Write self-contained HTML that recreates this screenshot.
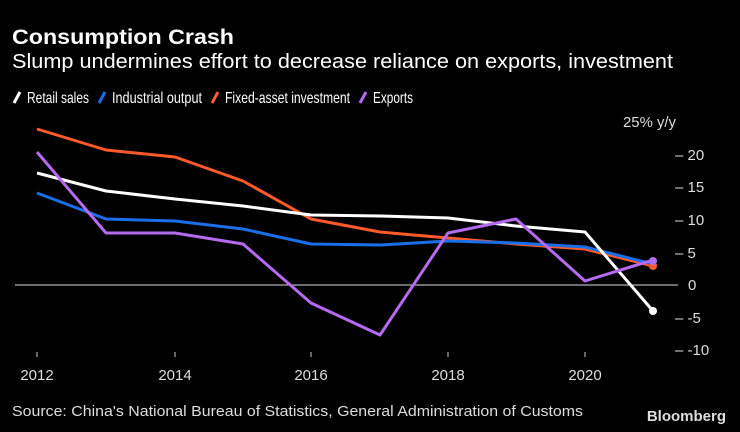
<!DOCTYPE html>
<html><head><style>
body{margin:0;background:#000;width:740px;height:432px;overflow:hidden;font-family:"Liberation Sans",sans-serif;color:#fff}
</style></head><body>
<svg width="740" height="432" xmlns="http://www.w3.org/2000/svg" style="position:absolute;left:0;top:0">
<rect width="740" height="432" fill="#000"/>
<text x="12" y="44" font-size="21" font-weight="bold" fill="#fff" font-family="Liberation Sans" textLength="222" lengthAdjust="spacingAndGlyphs">Consumption Crash</text>
<text x="12" y="68" font-size="20" fill="#fff" font-family="Liberation Sans" textLength="661" lengthAdjust="spacingAndGlyphs">Slump undermines effort to decrease reliance on exports, investment</text>
<g font-size="16" fill="#fff" font-family="Liberation Sans">
<line x1="14" y1="103" x2="20" y2="92" stroke="#fff" stroke-width="3"/><text x="27" y="103" textLength="62" lengthAdjust="spacingAndGlyphs">Retail sales</text>
<line x1="99" y1="103" x2="105" y2="92" stroke="#1a6fe8" stroke-width="3"/><text x="112" y="103" textLength="90" lengthAdjust="spacingAndGlyphs">Industrial output</text>
<line x1="212" y1="103" x2="218" y2="92" stroke="#ff5a2a" stroke-width="3"/><text x="225" y="103" textLength="125" lengthAdjust="spacingAndGlyphs">Fixed-asset investment</text>
<line x1="360" y1="103" x2="366" y2="92" stroke="#b46bf0" stroke-width="3"/><text x="373" y="103" textLength="40" lengthAdjust="spacingAndGlyphs">Exports</text>
</g>
<g font-size="15" fill="#ddd" font-family="Liberation Sans">
<text x="623" y="127" textLength="53" lengthAdjust="spacingAndGlyphs">25% y/y</text>
<text x="675" y="160">– 20</text>
<text x="675" y="192">– 15</text>
<text x="675" y="225">– 10</text>
<text x="675" y="258">– 5</text>
<text x="688" y="290">0</text>
<text x="675" y="323">– -5</text>
<text x="675" y="355">– -10</text>
<g text-anchor="middle">
<text x="37" y="380">2012</text><text x="175" y="380">2014</text><text x="311" y="380">2016</text><text x="448" y="380">2018</text><text x="585" y="380">2020</text>
</g>
</g>
<g stroke="#ccc" stroke-width="1">
<line x1="37" y1="352" x2="37" y2="357"/><line x1="175" y1="352" x2="175" y2="357"/><line x1="311" y1="352" x2="311" y2="357"/><line x1="448" y1="352" x2="448" y2="357"/><line x1="585" y1="352" x2="585" y2="357"/>
</g>
<line x1="15" y1="285" x2="678" y2="285" stroke="#ddd" stroke-width="1"/>
<g fill="none" stroke-width="3" stroke-linejoin="round">
<polyline stroke="#ff5a2a" points="37,129 106,150 175,157 243,181 311,219 380,232 448,238 516,244 585,249 653,266"/>
<polyline stroke="#1a6fe8" points="37,193 106,219 175,221 243,229 311,244 380,245 448,241 516,243 585,247 653,264"/>
<polyline stroke="#fff" points="37,173 106,191 175,199 243,206 311,215 380,216 448,218 516,226 585,232 653,311"/>
<polyline stroke="#b46bf0" points="37,152 106,233 175,233 243,244 311,303 380,335 448,233 516,219 585,281 653,260"/>
</g>
<circle cx="653" cy="266" r="4" fill="#ff5a2a"/>
<circle cx="653" cy="311" r="4" fill="#fff"/>
<circle cx="653" cy="261" r="4" fill="#b46bf0"/>
<text x="12" y="416" font-size="15" fill="#ddd" font-family="Liberation Sans" textLength="571" lengthAdjust="spacingAndGlyphs">Source: China's National Bureau of Statistics, General Administration of Customs</text>
<text x="726" y="421" font-size="15" font-weight="bold" fill="#ddd" text-anchor="end" font-family="Liberation Sans">Bloomberg</text>
</svg>
</body></html>
